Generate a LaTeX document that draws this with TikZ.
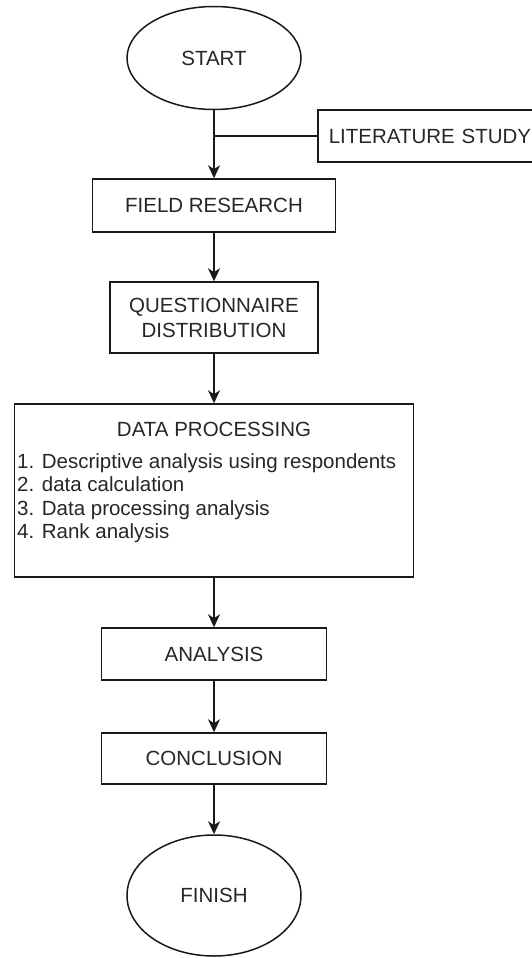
\documentclass[tikz,border=0pt]{standalone}
\usepackage{fontspec}
\setmainfont{Liberation Sans}
\usetikzlibrary{arrows.meta,shapes.geometric}
\begin{document}
\begin{tikzpicture}[x=1pt,y=-1pt,
  every node/.style={font=\fontsize{20.5}{25}\selectfont, text=black!85},
  box/.style={draw=black!90, line width=1.5pt, rectangle, inner sep=0pt, align=center},
  term/.style={draw=black!90, line width=1.5pt, ellipse, inner sep=0pt},
  link/.style={draw=black!90, line width=1.5pt},
  flow/.style={link, -{Stealth[length=13pt,width=12pt,inset=4pt]}},
  plain/.style={inner sep=0pt}
  ]
\useasboundingbox (0,0) rectangle (532,958);

% terminals and process boxes
\node[term, minimum width=174pt, minimum height=103pt] (start) at (214,58) {START};
\node[draw=black!90, line width=1.5pt, rectangle, anchor=west, inner xsep=11pt,
      inner ysep=0pt, text width=240pt, align=left, minimum height=52pt]
      (lit) at (317,136) {LITERATURE STUDY};
\node[box, minimum width=243pt, minimum height=53pt] (field) at (214,205.5) {FIELD RESEARCH};
\node[box, minimum width=208pt, minimum height=71pt] (quest) at (214,317.5) {QUESTIONNAIRE\\DISTRIBUTION};
\node[box, minimum width=399pt, minimum height=173pt] (data) at (214,490.5) {};
\node[plain, anchor=base] (dtitle) at (214,436) {DATA PROCESSING};
\node[plain, anchor=base west] (item1) at (17,468.3) {1. Descriptive analysis using respondents};
\node[plain, anchor=base west] (item2) at (17,491.7) {2. data calculation};
\node[plain, anchor=base west] (item3) at (17,515) {3. Data processing analysis};
\node[plain, anchor=base west] (item4) at (17,538.3) {4. Rank analysis};
\node[box, minimum width=225pt, minimum height=52pt] (anal) at (214,654) {ANALYSIS};
\node[box, minimum width=225pt, minimum height=51pt] (concl) at (214,758.5) {CONCLUSION};
\node[term, minimum width=174pt, minimum height=121pt] (finish) at (214,895.5) {FINISH};

% connectors
\coordinate (join) at (lit.west -| start.south);
\draw[link] (lit.west) -- (join);
\draw[flow] (start.south) -- (field.north);
\draw[flow] (field.south) -- (quest.north);
\draw[flow] (quest.south) -- (data.north);
\draw[flow] (data.south) -- (anal.north);
\draw[flow] (anal.south) -- (concl.north);
\draw[flow] (concl.south) -- (finish.north);
\end{tikzpicture}
\end{document}
